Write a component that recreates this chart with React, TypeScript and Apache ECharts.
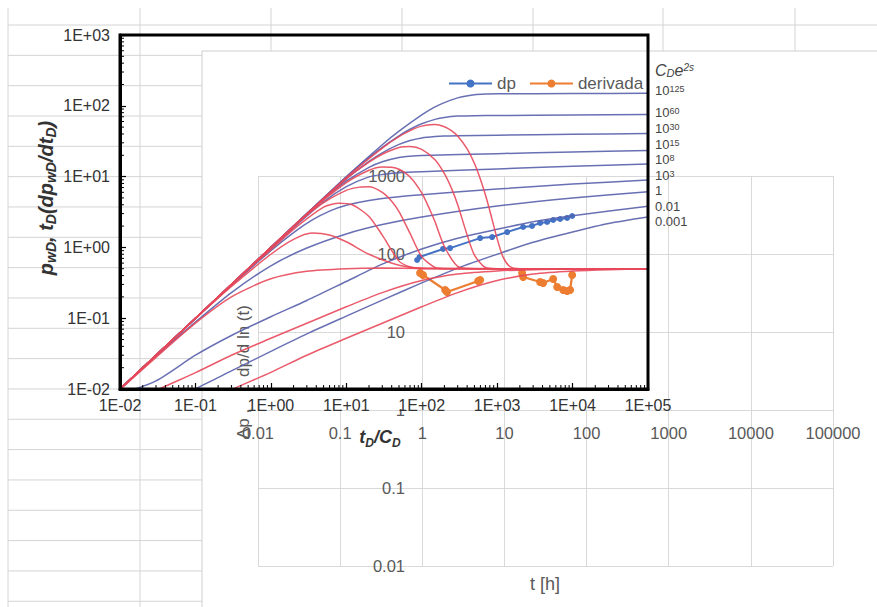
import React, { useEffect, useRef } from "react";
import * as echarts from "echarts";

// ---------- Type-curve data (x = tD/CD, y = pwD or tD(dpwD/dtD)) ----------
const CURVE_NAMES = ["1e125", "1e60", "1e30", "1e15", "1e8", "1e3", "1", "0.01", "0.001"];

const PD_1E125 = [[0.01, 0.01], [0.1, 0.1], [1, 1], [10, 9.95], [30, 28.2], [50, 43.8], [100, 74.5], [150, 96.5], [200, 111], [300, 129.5], [500, 143], [700, 146.6], [1000, 147.6], [10000, 148.9], [100000, 150]];
const PD_1E60 = [[0.01, 0.01], [0.1, 0.1], [1, 1], [10, 9.9], [20, 18.5], [30, 25.9], [50, 37.7], [70, 46.6], [100, 55.7], [150, 64.3], [200, 68.5], [300, 71.5], [500, 72.6], [1000, 73.0], [10000, 74.1], [100000, 75.3]];
const PD_1E30 = [[0.01, 0.01], [0.1, 0.1], [1, 1], [3, 3.0], [10, 9.3], [20, 16.4], [30, 21.7], [50, 28.5], [70, 32.3], [100, 35.2], [150, 36.9], [200, 37.5], [300, 37.8], [1000, 38.4], [10000, 39.6], [100000, 40.7]];
const PD_1E15 = [[0.01, 0.01], [0.1, 0.1], [1, 1], [3, 2.95], [5, 4.8], [10, 8.6], [20, 13.5], [30, 16.2], [50, 18.6], [70, 19.4], [100, 19.9], [1000, 21.1], [10000, 22.3], [100000, 23.4]];
const PD_1E8 = [[0.01, 0.01], [0.1, 0.1], [1, 0.95], [2, 1.9], [5, 4.4], [10, 7.2], [20, 9.9], [30, 10.7], [50, 11.3], [100, 11.7], [1000, 12.85], [10000, 14.0], [100000, 15.1]];
const PD_1E3 = [[0.01, 0.01], [0.1, 0.099], [0.3, 0.29], [1, 0.9], [2, 1.62], [3.5, 2.42], [6, 3.25], [10, 3.93], [20, 4.6], [50, 5.18], [100, 5.53], [1000, 6.68], [10000, 7.83], [100000, 8.98]];
const PD_1 = [[0.01, 0.0099], [0.03, 0.029], [0.1, 0.088], [0.3, 0.23], [1, 0.55], [3, 0.98], [10, 1.55], [30, 2.1], [100, 2.68], [1000, 3.83], [10000, 4.98], [100000, 6.13]];
const PD_0_01 = [[0.01, 0.0085], [0.03, 0.013], [0.1, 0.03], [0.3, 0.057], [1, 0.105], [3, 0.178], [10, 0.33], [30, 0.58], [100, 0.95], [300, 1.35], [1000, 1.8], [3000, 2.3], [10000, 2.8], [100000, 3.8]];
const PD_0_001 = [[0.01, 0.0033], [0.03, 0.0057], [0.1, 0.0101], [0.3, 0.018], [1, 0.034], [3, 0.06], [10, 0.107], [30, 0.18], [100, 0.315], [300, 0.51], [1000, 0.8], [3000, 1.18], [10000, 1.65], [30000, 2.17], [100000, 2.68]];

const DER_1E125 = [[0.01, 0.01], [0.1, 0.1], [1, 1], [10, 9.7], [30, 25.3], [50, 36.7], [80, 47.5], [100, 51.6], [130, 54.1], [150, 54.3], [200, 50.7], [250, 44.4], [300, 37.4], [400, 24.6], [500, 15.3], [600, 9.2], [700, 5.5], [800, 3.3], [1000, 1.33], [1200, 0.73], [1500, 0.53], [2000, 0.5], [100000, 0.5]];
const DER_1E60 = [[0.01, 0.01], [0.1, 0.1], [1, 1], [10, 9.3], [20, 16.0], [30, 20.7], [50, 25.7], [70, 26.6], [100, 24.3], [150, 17.3], [200, 11.0], [250, 6.7], [300, 4.0], [400, 1.5], [500, 0.78], [700, 0.52], [1000, 0.5], [100000, 0.5]];
const DER_1E30 = [[0.01, 0.01], [0.1, 0.1], [1, 1], [3, 2.95], [10, 8.2], [20, 12.3], [30, 13.7], [40, 13.6], [50, 12.7], [70, 9.9], [100, 5.9], [130, 3.3], [150, 2.3], [200, 1.03], [300, 0.54], [500, 0.5], [100000, 0.5]];
const DER_1E15 = [[0.01, 0.01], [0.1, 0.1], [1, 0.99], [3, 2.85], [5, 4.3], [10, 6.4], [15, 7.1], [20, 7.2], [30, 6.0], [40, 4.5], [50, 3.2], [70, 1.58], [100, 0.74], [150, 0.52], [200, 0.5], [100000, 0.5]];
const DER_1E8 = [[0.01, 0.01], [0.1, 0.1], [0.5, 0.49], [1, 0.93], [2, 1.8], [5, 3.7], [8, 4.2], [12, 4.0], [20, 2.74], [30, 1.49], [50, 0.64], [70, 0.53], [100, 0.5], [100000, 0.5]];
const DER_1E3 = [[0.01, 0.01], [0.1, 0.098], [0.3, 0.28], [1, 0.8], [2, 1.3], [3.5, 1.6], [6, 1.5], [10, 1.2], [20, 0.8], [50, 0.56], [100, 0.51], [1000, 0.5], [100000, 0.5]];
const DER_1 = [[0.01, 0.0098], [0.03, 0.028], [0.1, 0.085], [0.3, 0.2], [1, 0.36], [3, 0.46], [10, 0.5], [30, 0.51], [100, 0.505], [1000, 0.5], [100000, 0.5]];
const DER_0_01 = [[0.01, 0.005], [0.03, 0.0095], [0.1, 0.017], [0.3, 0.03], [1, 0.052], [3, 0.085], [10, 0.145], [30, 0.23], [100, 0.34], [300, 0.42], [1000, 0.465], [3000, 0.485], [10000, 0.495], [100000, 0.5]];
const DER_0_001 = [[0.1, 0.0056], [0.3, 0.0098], [1, 0.0172], [3, 0.03], [10, 0.052], [30, 0.085], [100, 0.145], [300, 0.23], [1000, 0.34], [3000, 0.42], [10000, 0.465], [30000, 0.485], [100000, 0.495]];

const PRESSURE_CURVES = [PD_1E125, PD_1E60, PD_1E30, PD_1E15, PD_1E8, PD_1E3, PD_1, PD_0_01, PD_0_001];
const DERIVATIVE_CURVES = [DER_1E125, DER_1E60, DER_1E30, DER_1E15, DER_1E8, DER_1E3, DER_1, DER_0_01, DER_0_001];

// Curve tags on the right of the type-curve frame
const TAG_BASE = ["10", "10", "10", "10", "10", "10", "1", "0.01", "0.001"];
const TAG_EXP = ["125", "60", "30", "15", "8", "3", "", "", ""];

// ---------- Field data (t [h]) ----------
const DP_TIME = [0.865, 0.925, 1.79, 2.18, 5.06, 7.08, 10.8, 16.9, 21.7, 27.2, 33.1, 39.2, 47.6, 58, 66.8];
const DP_VALUE = [83.8, 91.5, 116, 119, 160, 165, 191, 222, 229, 250, 257, 273, 281, 290, 307];
const DER_TIME = [0.94, 1.02, 1.9, 2.0, 4.79, 5.06, 10, 16.4, 16.9, 27.2, 29.6, 39.2, 43.9, 51.9, 58, 63, 66.8];
const DER_VALUE = [57, 53.8, 34.5, 32.6, 45, 46.4, null, 57, 50.7, 43.8, 42.5, 47.7, 37.8, 34.5, 33.5, 34.5, 53.8];

// Axis decades
const TYPE_X_DECADES = [0.01, 0.1, 1, 10, 100, 1000, 10000];
const TYPE_Y_DECADES = [0.01, 0.1, 1, 10, 100];

const FONT = "'Liberation Sans', Arial, sans-serif";
const BLUE_TC = "#5860ab";
const RED_TC = "#e8485a";
const XL_BLUE = "#4472C4";
const XL_ORANGE = "#ED7D31";
const XL_TEXT = "#595959";
const XL_GRID = "#d9d9d9";
const SHEET = "#d4d4d4";

function sci(v: number) {
  const e = Math.round(Math.log10(v));
  return "1E" + (e < 0 ? "-" : "+") + String(Math.abs(e)).padStart(2, "0");
}
function plain(v: number) {
  const e = Math.round(Math.log10(v));
  return e >= 0 ? String(Math.round(Math.pow(10, e))) : Math.pow(10, e).toFixed(-e);
}

function buildOption() {
  const graphics: any[] = [];
  // spreadsheet grid
  for (let k = 0; k < 20; k++) {
    const y = 25 + 30.33 * k;
    graphics.push({ type: "line", z: -20, silent: true, shape: { x1: 8, y1: y, x2: k === 0 ? 877 : 202, y2: y }, style: { stroke: SHEET, lineWidth: 1 } });
  }
  [8, 140].forEach((x) => graphics.push({ type: "line", z: -20, silent: true, shape: { x1: x, y1: 8, x2: x, y2: 607 }, style: { stroke: SHEET, lineWidth: 1 } }));
  [271, 402, 533, 663, 795].forEach((x) => graphics.push({ type: "line", z: -20, silent: true, shape: { x1: x, y1: 8, x2: x, y2: 51 }, style: { stroke: SHEET, lineWidth: 1 } }));
  // excel chart object
  graphics.push({ type: "rect", z: -15, silent: true, shape: { x: 202, y: 51, width: 720, height: 600 }, style: { fill: "#fff", stroke: "#cfcfcf", lineWidth: 1 } });
  // white strip of the pasted type-curve picture (under its x labels)
  graphics.push({ type: "rect", z: 4, silent: true, shape: { x: 203, y: 391, width: 457, height: 18 }, style: { fill: "#fff" } });

  // excel axis titles
  graphics.push({ type: "text", z: 3, silent: true, x: 243, y: 424, rotation: Math.PI / 2, style: { text: "Δp ,", fill: XL_TEXT, font: `17px ${FONT}`, align: "center", verticalAlign: "middle" } });
  graphics.push({ type: "text", z: 3, silent: true, x: 243, y: 341, rotation: Math.PI / 2, style: { text: "dp/d ln (t)", fill: XL_TEXT, font: `17px ${FONT}`, align: "center", verticalAlign: "middle" } });
  graphics.push({ type: "text", z: 3, silent: true, x: 545, y: 584, style: { text: "t [h]", fill: XL_TEXT, font: `18px ${FONT}`, align: "center", verticalAlign: "middle" } });

  // type-curve axis titles
  const bi = { fontSize: 20, fontWeight: "bold", fontStyle: "italic", fontFamily: FONT, fill: "#333", lineHeight: 23 };
  const biSub = { fontSize: 14, fontWeight: "bold", fontStyle: "italic", fontFamily: FONT, fill: "#333", lineHeight: 13, verticalAlign: "bottom" };
  graphics.push({
    type: "text", z: 20, silent: true, x: 46, y: 198, rotation: Math.PI / 2,
    style: { text: "{i|p}{s|wD}{i|, t}{s|D}{i|(dp}{s|wD}{i|/dt}{s|D}{i|)}", rich: { i: bi, s: biSub }, align: "center", verticalAlign: "middle" },
  });
  graphics.push({
    type: "text", z: 20, silent: true, x: 380, y: 437,
    style: { text: "{i|t}{s|D}{i|/C}{s|D}", rich: { i: { ...bi, fontSize: 18 }, s: { ...biSub, fontSize: 12 } }, align: "center", verticalAlign: "middle" },
  });

  // curve tags
  const tagBase = { fontSize: 13, fontFamily: FONT, fill: "#444", lineHeight: 12 };
  const tagSup = { fontSize: 9, fontFamily: FONT, fill: "#444", lineHeight: 8, verticalAlign: "top" };
  graphics.push({
    type: "text", z: 20, silent: true, x: 655, y: 70,
    style: { text: "{i|C}{d|D}{i|e}{u|2s}", rich: { i: { ...tagBase, fontSize: 16, lineHeight: 16, fontStyle: "italic" }, d: { ...tagSup, fontStyle: "italic", verticalAlign: "bottom", fontSize: 11 }, u: { ...tagSup, fontSize: 10, fontStyle: "italic" } }, align: "left", verticalAlign: "middle" },
  });
  const tagY = [90, 112, 128.5, 144, 159.5, 175, 190.5, 206, 221];
  TAG_BASE.forEach((b, i) => {
    const text = TAG_EXP[i] ? `{b|${b}}{u|${TAG_EXP[i]}}` : `{b|${b}}`;
    graphics.push({ type: "text", z: 20, silent: true, x: 655, y: tagY[i], style: { text, rich: { b: tagBase, u: tagSup }, align: "left", verticalAlign: "middle" } });
  });

  const minorX: number[][] = [];
  TYPE_X_DECADES.forEach((d) => [2, 3, 4, 5, 6, 7, 8, 9].forEach((m) => minorX.push([d * m, 0.01])));
  const minorY: number[][] = [];
  TYPE_Y_DECADES.forEach((d) => [2, 3, 4, 5, 6, 7, 8, 9].forEach((m) => minorY.push([0.01, d * m])));

  const typeLine = (data: number[][], color: string) => ({
    type: "line", xAxisIndex: 0, yAxisIndex: 0, data, showSymbol: false, symbol: "none",
    smooth: 0.25, silent: true, z: 6, clip: true,
    lineStyle: { color, width: 1.5, opacity: 0.9 }, itemStyle: { color },
  });

  const dpData = DP_TIME.map((t, i) => [t, DP_VALUE[i]]);
  const derData = DER_TIME.map((t, i) => [t, DER_VALUE[i] === null ? "-" : DER_VALUE[i]]);

  return {
    animation: false,
    backgroundColor: "transparent",
    grid: [
      { left: 120, top: 35, width: 528, height: 354, show: true, borderColor: "#000", borderWidth: 3, backgroundColor: "transparent", z: 10 },
      { left: 258, top: 176, width: 575, height: 390, show: false },
    ],
    legend: {
      data: ["dp", "derivada"], left: 443, top: 70, itemWidth: 43, itemHeight: 10, itemGap: 13,
      textStyle: { fontSize: 17, color: XL_TEXT, fontFamily: FONT }, z: 8,
    },
    xAxis: [
      {
        type: "log", logBase: 10, gridIndex: 0, min: 0.01, max: 100000, position: "bottom", z: 10,
        axisLine: { show: true, lineStyle: { color: "#000", width: 3 } },
        axisTick: { show: true, inside: true, length: 6, lineStyle: { color: "#000", width: 1.2 } },
        axisLabel: { formatter: sci, fontSize: 16, color: "#333", fontFamily: FONT, margin: 8, showMinLabel: true, showMaxLabel: true },
        splitLine: { show: false },
      },
      {
        type: "log", logBase: 10, gridIndex: 1, min: 0.01, max: 100000, position: "bottom", offset: -156, z: 1,
        axisLine: { show: false }, axisTick: { show: false },
        axisLabel: { formatter: plain, fontSize: 16.5, color: XL_TEXT, fontFamily: FONT, margin: 14, showMinLabel: true, showMaxLabel: true },
        splitLine: { show: true, lineStyle: { color: XL_GRID, width: 1 } },
      },
    ],
    yAxis: [
      {
        type: "log", logBase: 10, gridIndex: 0, min: 0.01, max: 1000, position: "left", z: 10,
        axisLine: { show: true, lineStyle: { color: "#000", width: 3 } },
        axisTick: { show: true, inside: true, length: 6, lineStyle: { color: "#000", width: 1.2 } },
        axisLabel: { formatter: sci, fontSize: 16, color: "#333", fontFamily: FONT, margin: 10, showMinLabel: true, showMaxLabel: true },
        splitLine: { show: false },
      },
      {
        type: "log", logBase: 10, gridIndex: 1, min: 0.01, max: 1000, position: "left", offset: -164, z: 1,
        axisLine: { show: false }, axisTick: { show: false },
        axisLabel: { formatter: plain, fontSize: 16.5, color: XL_TEXT, fontFamily: FONT, margin: 17, showMinLabel: true, showMaxLabel: true },
        splitLine: { show: true, lineStyle: { color: XL_GRID, width: 1 } },
      },
    ],
    graphic: { elements: graphics },
    series: [
      {
        name: "dp", type: "line", xAxisIndex: 1, yAxisIndex: 1, data: dpData, z: 2,
        symbol: "circle", symbolSize: 6, showSymbol: true,
        lineStyle: { color: XL_BLUE, width: 2 }, itemStyle: { color: XL_BLUE },
      },
      {
        name: "derivada", type: "line", xAxisIndex: 1, yAxisIndex: 1, data: derData, z: 2, connectNulls: false,
        symbol: "circle", symbolSize: 8, showSymbol: true,
        lineStyle: { color: XL_ORANGE, width: 2.25 }, itemStyle: { color: XL_ORANGE },
      },
      ...PRESSURE_CURVES.map((d) => typeLine(d, BLUE_TC)),
      ...DERIVATIVE_CURVES.map((d) => typeLine(d, RED_TC)),
      {
        type: "custom", xAxisIndex: 0, yAxisIndex: 0, data: minorX, clip: false, silent: true, z: 11,
        encode: { x: 0, y: 1 },
        renderItem: (params: any, api: any) => {
          const p = api.coord([api.value(0), api.value(1)]);
          return { type: "line", shape: { x1: p[0], y1: p[1], x2: p[0], y2: p[1] - 4 }, style: { stroke: "#000", lineWidth: 1 } };
        },
      },
      {
        type: "custom", xAxisIndex: 0, yAxisIndex: 0, data: minorY, clip: false, silent: true, z: 11,
        encode: { x: 0, y: 1 },
        renderItem: (params: any, api: any) => {
          const p = api.coord([api.value(0), api.value(1)]);
          return { type: "line", shape: { x1: p[0], y1: p[1], x2: p[0] + 4, y2: p[1] }, style: { stroke: "#000", lineWidth: 1 } };
        },
      },
    ],
  };
}

export default function App() {
  const ref = useRef<HTMLDivElement>(null);
  useEffect(() => {
    if (!ref.current) return;
    const chart = echarts.init(ref.current, null, { renderer: "svg" });
    chart.setOption(buildOption() as any);
    return () => chart.dispose();
  }, []);
  return <div ref={ref} style={{ position: "absolute", left: 0, top: 0, width: 877, height: 607, background: "#fff" }} />;
}
